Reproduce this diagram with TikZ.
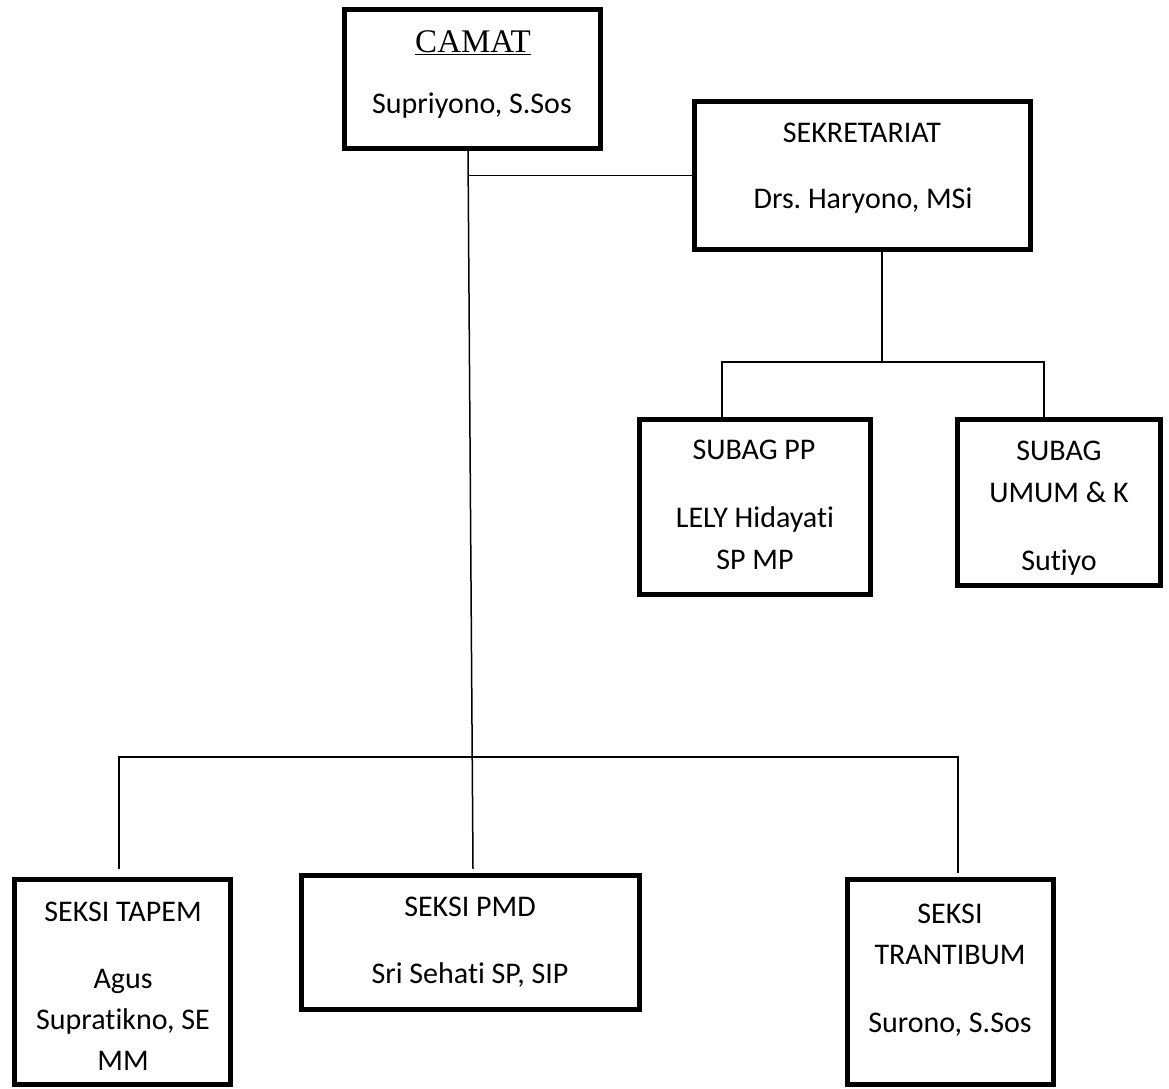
\documentclass[tikz,border=0pt]{standalone}
\usepackage{fontspec}
\setmainfont{Carlito}[Ligatures={NoCommon,NoContextual}]
\newfontfamily\camatserif{Liberation Serif}
\frenchspacing
\begin{document}
\begin{tikzpicture}[x=1pt,y=-1pt,
  box/.style={draw=black, line width=4.75pt, fill=white, inner sep=0pt},
  conn/.style={draw=black, line width=1.5pt},
  txt/.style={anchor=base, inner sep=0pt, font=\fontsize{30}{36}\selectfont},
  ttl/.style={anchor=base, inner sep=0pt, font=\camatserif\fontsize{33}{39}\selectfont}]
\useasboundingbox (0,0) rectangle (1169,1088);

% boxes
\node[box, minimum width=256.5pt, minimum height=139.5pt] (camat) at (472.5,79) {};
\node[box, minimum width=336.5pt, minimum height=148.5pt] (sek) at (862.5,175.5) {};
\node[box, minimum width=231.5pt, minimum height=175.5pt] (subpp) at (755,507) {};
\node[box, minimum width=203.5pt, minimum height=166.5pt] (umum) at (1059,502.5) {};
\node[box, minimum width=216.5pt, minimum height=205.5pt] (tapem) at (122.5,982) {};
\node[box, minimum width=338.5pt, minimum height=134.5pt] (pmd) at (470.5,942.5) {};
\node[box, minimum width=206.5pt, minimum height=205.5pt] (trant) at (950.5,982) {};

% junctions
\coordinate (sbus) at (882,362);
\coordinate (bbus) at (472.5,757);

% connectors
\draw[conn] ([xshift=-4.5pt]camat.south) -- ([xshift=2.5pt,yshift=4pt]pmd.north);
\draw[conn] (sek.west) -- ([xshift=-4.5pt]camat.south |- sek.west);
\draw[conn] ([xshift=19.5pt]sek.south) -- (sbus);
\draw[conn] ([xshift=-33pt]subpp.north) |- (sbus) -| ([xshift=-15pt]umum.north);
\draw[conn] ([xshift=-3.5pt,yshift=8pt]tapem.north) |- (bbus) -| ([xshift=7.5pt,yshift=4pt]trant.north);

% texts
\node[ttl] (t-camat) at (473,52) {\underline{CAMAT}};
\node[txt] (t-camat2) at (472,113) {Supriyono, S.Sos};

\node[txt] (t-sek) at (862,142) {SEKRETARIAT};
\node[txt] (t-sek2) at (863,208) {Drs. Haryono, MSi};

\node[txt] (t-pp) at (754,459) {SUBAG PP};
\node[txt] (t-pp2) at (755,527) {LELY Hidayati};
\node[txt] (t-pp3) at (755,569) {SP MP};

\node[txt] (t-um) at (1059,460) {SUBAG};
\node[txt] (t-um2) at (1059,502) {UMUM \& K};
\node[txt] (t-um3) at (1059,570) {Sutiyo};

\node[txt] (t-tp) at (123,921) {SEKSI TAPEM};
\node[txt] (t-tp2) at (123,988) {Agus};
\node[txt] (t-tp3) at (123,1029) {Supratikno, SE};
\node[txt] (t-tp4) at (123,1070) {MM};

\node[txt] (t-pmd) at (470,916) {SEKSI PMD};
\node[txt] (t-pmd2) at (470,983) {Sri Sehati SP, SIP};

\node[txt] (t-tr) at (950,923) {SEKSI};
\node[txt] (t-tr2) at (950,964) {TRANTIBUM};
\node[txt] (t-tr3) at (950,1032) {Surono, S.Sos};
\end{tikzpicture}
\end{document}
